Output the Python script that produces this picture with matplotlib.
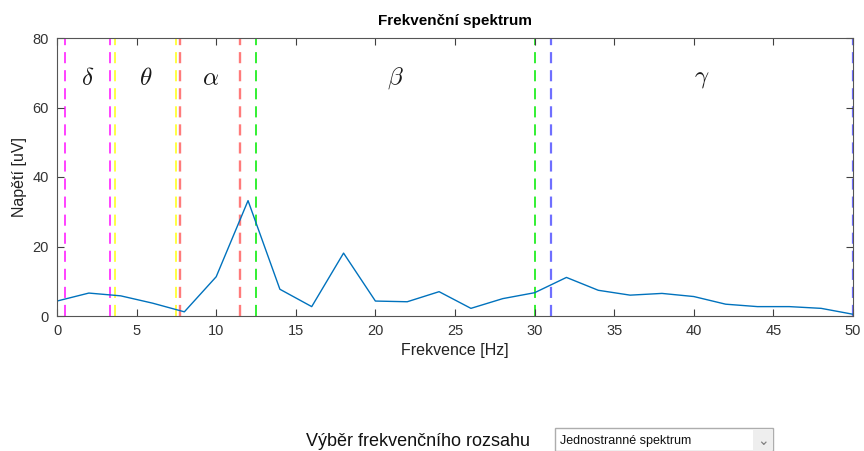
import matplotlib.pyplot as plt
from matplotlib.patches import Rectangle

plt.rcParams["font.family"] = ["Liberation Sans", "DejaVu Sans"]
plt.rcParams["mathtext.fontset"] = "cm"

# amplitude spectrum sampled every 2 Hz
freq = [0, 2, 4, 6, 8, 10, 12, 14, 16, 18, 20, 22, 24, 26, 28, 30,
        32, 34, 36, 38, 40, 42, 44, 46, 48, 50]
amplitude = [4.3, 6.6, 5.8, 3.7, 1.2, 11.3, 33.2, 7.7, 2.7, 18.1, 4.3, 4.1,
             7.0, 2.2, 5.0, 6.7, 11.1, 7.4, 6.0, 6.5, 5.6, 3.4, 2.7, 2.7,
             2.2, 0.5]

# EEG band limits (start, end) and colours
band_names = [r"$\delta$", r"$\theta$", r"$\alpha$", r"$\beta$", r"$\gamma$"]
band_limits = [(0.5, 3.35), (3.65, 7.45), (7.75, 11.5), (12.5, 30.0), (31.0, 50.0)]
band_colors = ["#ff33ff", "#ffff33", "#ff7b7b", "#22ee22", "#6f6fff"]
band_widths = [1.3, 1.3, 1.7, 1.3, 1.6]

fig = plt.figure(figsize=(8.64, 4.51), dpi=100)
ax = fig.add_axes([57 / 864, 135 / 451, 796 / 864, 278 / 451])

for (lo, hi), color, lw in zip(band_limits, band_colors, band_widths):
    # keep the dash length the same whatever the line width
    dashes = (0, (8.0 / lw, 5.0 / lw))
    for x in (lo, hi):
        ax.axvline(x, color=color, lw=lw, linestyle=dashes, zorder=1)

ax.plot(freq, amplitude, color="#0072bd", lw=1.0, zorder=2)

for name, (lo, hi) in zip(band_names, band_limits):
    ax.text((lo + hi) / 2, 68.5, name, ha="center", va="center", fontsize=18,
            color="#1a1a1a")

ax.set_xlim(0, 50)
ax.set_ylim(0, 80)
ax.set_xticks(range(0, 51, 5))
ax.set_yticks(range(0, 81, 20))
ax.tick_params(direction="in", length=5, width=0.8, top=True, right=True,
               labelsize=10.5, colors="#404040", labelcolor="#333333", pad=6)
for spine in ax.spines.values():
    spine.set_color("#555555")
    spine.set_linewidth(0.8)

ax.set_title("Frekvenční spektrum", fontsize=11, fontweight="bold", pad=9)
ax.set_xlabel("Frekvence [Hz]", fontsize=11.5, color="#222222", labelpad=3)
ax.set_ylabel("Napětí [uV]", fontsize=11.5, color="#222222", labelpad=4)

# frequency range selector below the chart
fig.text(530 / 864, 1 - 441 / 451, "Výběr frekvenčního rozsahu", fontsize=13,
         ha="right", va="center", color="#111111")
fig.patches.append(Rectangle((555 / 864, 0), 218 / 864, 23 / 451,
                             transform=fig.transFigure, facecolor="white",
                             edgecolor="#adadad", lw=1.0))
fig.patches.append(Rectangle((753 / 864, 1 / 451), 19 / 864, 21 / 451,
                             transform=fig.transFigure, facecolor="#eeeeee",
                             edgecolor="none"))
fig.text(560 / 864, 1 - 441 / 451, "Jednostranné spektrum", fontsize=9,
         ha="left", va="center", color="#111111")
fig.text(763 / 864, 1 - 441 / 451, "⌄", fontsize=10, ha="center",
         va="center", color="#808080", family=["DejaVu Sans"])

fig.savefig("out.png", dpi=100)
